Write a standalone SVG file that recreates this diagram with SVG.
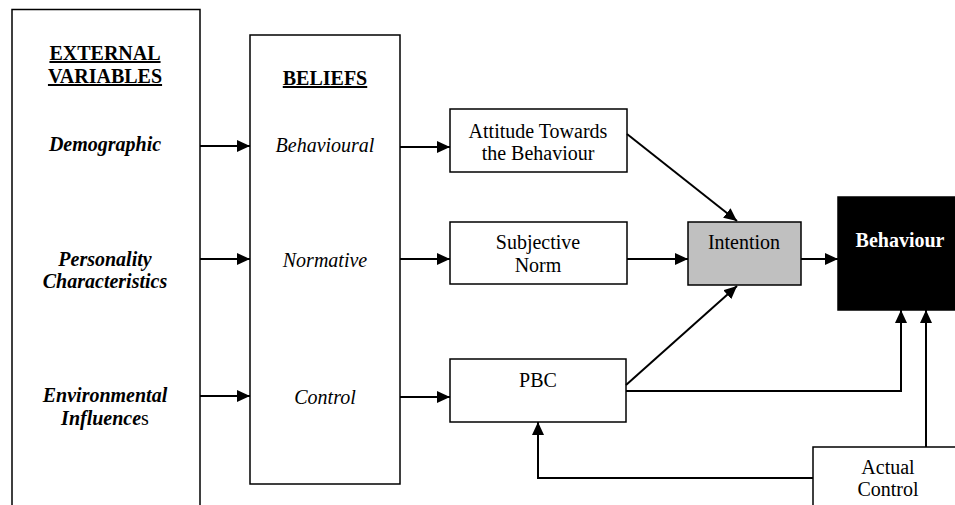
<svg xmlns="http://www.w3.org/2000/svg" width="955" height="505" viewBox="0 0 955 505">
<style>
.box{fill:#fff;stroke:#000;stroke-width:1.5}
text{font-family:'Liberation Serif',serif;font-size:20px;fill:#000;text-anchor:middle}
.b{font-weight:bold}
.i{font-style:italic}
.u{text-decoration:underline}
.ln{fill:none;stroke:#000;stroke-width:2}
</style>
<defs>
<marker id="ah" viewBox="0 0 13 12" refX="13" refY="6" markerWidth="13" markerHeight="12" markerUnits="userSpaceOnUse" orient="auto">
<path d="M0,0 L13,6 L0,12 Z" fill="#000"/>
</marker>
</defs>
<rect width="955" height="505" fill="#fff"/>
<g font-family="Liberation Serif" font-size="20" text-anchor="middle">
<g id="external">
<rect class="box" x="12" y="9.5" width="188" height="500"/>
<text class="b u" x="105" y="60">EXTERNAL</text>
<text class="b u" x="105" y="83">VARIABLES</text>
<text class="b i" x="105" y="151">Demographic</text>
<text class="b i" x="105" y="266">Personality</text>
<text class="b i" x="105" y="288">Characteristics</text>
<text class="b i" x="105" y="402">Environmental</text>
<text x="105" y="425"><tspan class="b i">Influence</tspan>s</text>
</g>
<g id="beliefs">
<rect class="box" x="250" y="35" width="150" height="449"/>
<text class="b u" x="325" y="85">BELIEFS</text>
<text class="i" x="325" y="152">Behavioural</text>
<text class="i" x="325" y="267">Normative</text>
<text class="i" x="325" y="404">Control</text>
</g>
<g id="attitude">
<rect class="box" x="450" y="109" width="177" height="63"/>
<text x="538" y="138">Attitude Towards</text>
<text x="538" y="160">the Behaviour</text>
</g>
<g id="subjective">
<rect class="box" x="450" y="222" width="177" height="62"/>
<text x="538" y="249">Subjective</text>
<text x="538" y="272">Norm</text>
</g>
<g id="pbc">
<rect class="box" x="450" y="359" width="176" height="63"/>
<text x="538" y="387">PBC</text>
</g>
<g id="intention">
<rect x="688" y="222" width="113" height="63" fill="#c0c0c0" stroke="#000" stroke-width="1.5"/>
<text x="744" y="249">Intention</text>
</g>
<g id="behaviour">
<rect x="838" y="197" width="120" height="113" fill="#000" stroke="#000" stroke-width="1.5"/>
<text class="b" x="900" y="247" style="fill:#fff">Behaviour</text>
</g>
<g id="actual">
<rect class="box" x="813" y="447" width="150" height="70"/>
<text x="888" y="474">Actual</text>
<text x="888" y="496">Control</text>
</g>
</g>
<g id="connectors">
<line class="ln" x1="200" y1="146" x2="250" y2="146" marker-end="url(#ah)"/>
<line class="ln" x1="200" y1="259" x2="250" y2="259" marker-end="url(#ah)"/>
<line class="ln" x1="200" y1="396" x2="250" y2="396" marker-end="url(#ah)"/>
<line class="ln" x1="400" y1="147" x2="450" y2="147" marker-end="url(#ah)"/>
<line class="ln" x1="400" y1="259" x2="450" y2="259" marker-end="url(#ah)"/>
<line class="ln" x1="400" y1="397" x2="450" y2="397" marker-end="url(#ah)"/>
<line class="ln" x1="627" y1="134" x2="737" y2="221" marker-end="url(#ah)"/>
<line class="ln" x1="627" y1="259" x2="688" y2="259" marker-end="url(#ah)"/>
<line class="ln" x1="626" y1="385" x2="737" y2="286" marker-end="url(#ah)"/>
<line class="ln" x1="801" y1="259" x2="838" y2="259" marker-end="url(#ah)"/>
<polyline class="ln" points="626,391 901,391 901,310" marker-end="url(#ah)"/>
<line class="ln" x1="926" y1="447" x2="926" y2="310" marker-end="url(#ah)"/>
<polyline class="ln" points="813,478 538,478 538,422" marker-end="url(#ah)"/>
</g>
</svg>
